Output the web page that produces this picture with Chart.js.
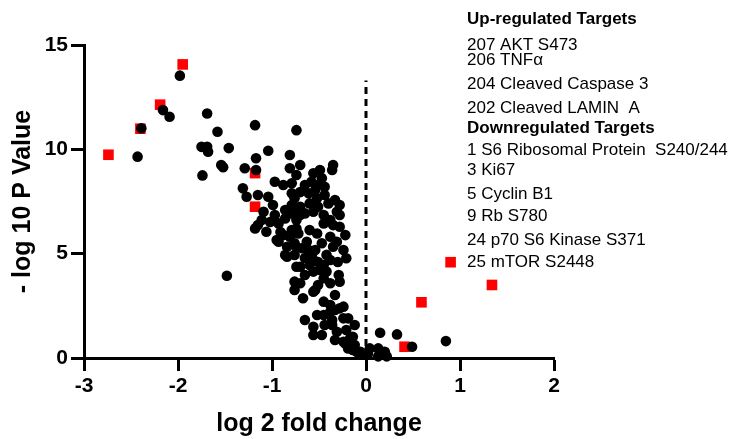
<!DOCTYPE html>
<html>
<head>
<meta charset="utf-8">
<script src="https://cdn.jsdelivr.net/npm/chart.js@4/dist/chart.umd.min.js"></script>
<style>
  html, body { margin: 0; padding: 0; background: #fff; }
  #volcano { display: block; }
</style>
</head>
<body>
<canvas id="volcano" width="729" height="439"></canvas>
<script>
// all measured proteins: log2 fold change / -log10 p
const allFC = [
  -1.98, -2.16, -2.09, -2.39, -2.43, -1.69, -1.58, -1.75, -1.69, -1.68,
  -1.46, -1.74, -1.54, -1.52, -1.29, -1.18, -1.17, -1.17, -1.31, -0.74,
  -1.04, -0.81, -0.81, -0.70, -0.35, -0.36, -0.56, -0.74, -0.97, -0.88,
  -0.79, -1.27, -1.15, -1.04, -0.99, -1.09, -1.11, -1.18, -1.06, -0.95,
  -0.86, -0.84, -1.48, -0.70, -0.60, -0.56, -0.76, -0.76, -0.67, -0.54,
  -0.51, -0.21, -0.29, -0.33, -0.45, -0.38, -0.24, -0.24, -0.52, -0.65,
  -0.56, -0.56, -0.36, -0.31, -0.21, -0.14, -0.24, -0.19, -0.06, 0.04,
  -0.44, -0.58, -0.54, -0.61, -0.52, -0.60, -0.51, -0.56, -0.79, -0.76,
  -0.70, -0.40, -0.31, -0.65, -0.79, -0.74, -0.86, -0.79, -0.70, -0.45,
  -0.28, -0.45, -0.35, -0.28, -0.74, -0.81, -0.76, -0.60, -0.52, -0.38,
  -0.31, -0.35, -0.63, -0.68, -0.61, -0.54, -0.47, -0.42, -0.38, -0.45,
  -0.42, -0.49, -0.74, -0.45, -0.38, -0.28, -1.15, -0.93, -0.86, -0.74,
  -0.93, -0.88, -0.79, -0.72, -0.74, -0.84, -0.76, -0.70, -0.56, -0.38,
  -0.28, -0.36, -0.17, -0.10, -0.45, -0.19, -0.22, -0.14, 0.13, 0.20,
  0.15, 0.33, 0.49, 0.85, -0.07, 0.13, 0.22,
  -0.49, -0.47, -0.51, -0.65, -0.70, -0.44, -0.33, -0.28, -0.38, -0.22,
  -0.24, -0.30, -0.97, -1.02, -0.91, -0.65, -0.57, -0.51, -0.65, -0.33,
  -0.44, -0.47, -0.12, -0.33, -0.12, -0.02, 0.02
];
const allLogP = [
  13.53, 11.88, 11.56, 11.01, 9.65, 11.72, 10.84, 10.12, 10.12, 9.89,
  10.06, 8.75, 9.25, 9.14, 9.09, 11.16, 9.57, 9.01, 8.13, 10.92,
  9.93, 9.73, 9.09, 9.25, 9.25, 9.01, 8.85, 8.77, 8.45, 8.29,
  8.37, 7.73, 7.81, 7.73, 7.33, 7.01, 6.61, 6.21, 6.05, 5.65,
  4.94, 5.33, 3.94, 4.37, 4.46, 4.14, 3.66, 3.26, 2.86, 3.26,
  3.50, 4.78, 3.98, 3.02, 2.70, 2.22, 2.46, 1.90, 2.06, 1.82,
  1.50, 1.10, 1.58, 1.26, 1.34, 1.02, 0.78, 0.46, 0.30, 0.46,
  8.21, 8.45, 8.05, 7.89, 7.65, 7.41, 7.25, 7.01, 7.89, 7.65,
  7.25, 7.41, 7.01, 6.93, 7.33, 7.01, 7.09, 6.93, 6.85, 6.85,
  6.85, 6.45, 6.37, 6.29, 6.21, 5.81, 5.50, 6.13, 5.97, 5.81,
  5.57, 5.33, 5.57, 5.26, 5.17, 5.17, 5.50, 4.94, 4.70, 4.46,
  4.14, 4.22, 4.37, 3.82, 3.58, 3.66, 6.37, 6.45, 6.69, 6.61,
  5.57, 5.89, 6.13, 5.97, 5.33, 4.85, 4.94, 3.58, 3.18, 2.54,
  2.38, 1.82, 0.94, 0.30, 2.06, 1.90, 0.70, 0.38, 0.46, 0.30,
  1.21, 1.13, 0.54, 0.81, 0.19, 0.08, 0.08,
  9.01, 8.62, 8.29, 8.29, 7.95, 7.81, 7.57, 7.33, 6.61, 5.89,
  5.17, 4.60, 6.85, 6.52, 6.04, 4.79, 4.79, 4.60, 3.98, 2.30,
  1.58, 1.10, 1.58, 0.86, 0.62, 0.19, 0.19
];

// highlighted targets (red squares)
const targetFC   = [-2.74, -1.95, -2.19, -2.40, -1.18, -1.18, 0.90, 0.59, 1.34, 0.41];
const targetLogP = [ 9.74, 14.07, 12.14, 10.99,  8.86,  7.25, 4.59, 2.67, 3.50, 0.54];

// vertical reference at fold change 0
const refFC   = [0, 0];
const refLogP = [0, 13.3];

const xTicks = [-3, -2, -1, 0, 1, 2];
const yTicks = [0, 5, 10, 15];

const upTitle = 'Up-regulated Targets';
const upTargets = ['207 AKT S473', '206 TNFα', '204 Cleaved Caspase 3', '202 Cleaved LAMIN  A'];
const downTitle = 'Downregulated Targets';
const downTargets = ['1 S6 Ribosomal Protein  S240/244', '3 Ki67', '5 Cyclin B1', '9 Rb S780',
  '24 p70 S6 Kinase S371', '25 mTOR S2448'];

const toPoints = (xs, ys) => xs.map((x, i) => ({ x: x, y: ys[i] }));

// target list drawn as plain text to the right of the plot
const targetText = {
  id: 'targetText',
  afterDraw(chart) {
    const ctx = chart.ctx;
    const lines = [
      { t: upTitle, y: 19, bold: true },
      { t: upTargets[0], y: 45 },
      { t: upTargets[1], y: 60 },
      { t: upTargets[2], y: 84 },
      { t: upTargets[3], y: 108 },
      { t: downTitle, y: 128, bold: true },
      { t: downTargets[0], y: 150 },
      { t: downTargets[1], y: 170 },
      { t: downTargets[2], y: 194 },
      { t: downTargets[3], y: 216 },
      { t: downTargets[4], y: 240 },
      { t: downTargets[5], y: 262 }
    ];
    ctx.save();
    ctx.fillStyle = '#000';
    ctx.textAlign = 'left';
    ctx.textBaseline = 'middle';
    lines.forEach(l => {
      ctx.font = (l.bold ? 'bold ' : '') + '17px "Liberation Sans", Arial, sans-serif';
      ctx.fillText(l.t, 467, l.y);
    });
    ctx.restore();
  }
};

const tickFont = { family: '"Liberation Sans", Arial, sans-serif', size: 21, weight: 'bold' };
const titleFont = { family: '"Liberation Sans", Arial, sans-serif', size: 25, weight: 'bold' };

new Chart(document.getElementById('volcano'), {
  type: 'scatter',
  data: {
    datasets: [
      {
        data: toPoints(allFC, allLogP),
        backgroundColor: '#000',
        borderWidth: 0,
        pointRadius: 5.3,
        order: 1,
        clip: false
      },
      {
        data: toPoints(targetFC, targetLogP),
        pointStyle: 'rect',
        backgroundColor: '#ff0000',
        borderWidth: 0,
        pointRadius: 7.5,
        order: 2,
        clip: false
      },
      {
        type: 'line',
        data: toPoints(refFC, refLogP),
        borderColor: '#000',
        borderWidth: 3,
        borderDash: [7, 5],
        pointRadius: 0,
        fill: false,
        order: 3
      }
    ]
  },
  options: {
    responsive: false,
    animation: false,
    events: [],
    layout: { padding: { top: 45, right: 175, bottom: 0, left: 0 } },
    plugins: { legend: { display: false }, tooltip: { enabled: false } },
    scales: {
      x: {
        type: 'linear',
        min: -3,
        max: 2,
        afterBuildTicks: s => { s.ticks = xTicks.map(v => ({ value: v })); },
        afterFit: s => { s.height = 81; },
        ticks: { color: '#000', font: tickFont, padding: 3 },
        grid: { drawOnChartArea: false, tickLength: 13, tickWidth: 3, tickColor: '#000' },
        border: { width: 3, color: '#000' },
        title: { display: true, text: 'log 2 fold change', color: '#000', font: titleFont, padding: { top: 0, bottom: 0 } }
      },
      y: {
        type: 'linear',
        min: 0,
        max: 15,
        afterBuildTicks: s => { s.ticks = yTicks.map(v => ({ value: v })); },
        afterFit: s => { s.width = 84; },
        ticks: { color: '#000', font: tickFont, padding: 3 },
        grid: { drawOnChartArea: false, tickLength: 13, tickWidth: 3, tickColor: '#000' },
        border: { width: 3, color: '#000' },
        title: { display: true, text: '- log 10 P Value', color: '#000', font: titleFont, padding: { top: 8, bottom: 0 } }
      }
    }
  },
  plugins: [targetText]
});
</script>
</body>
</html>
